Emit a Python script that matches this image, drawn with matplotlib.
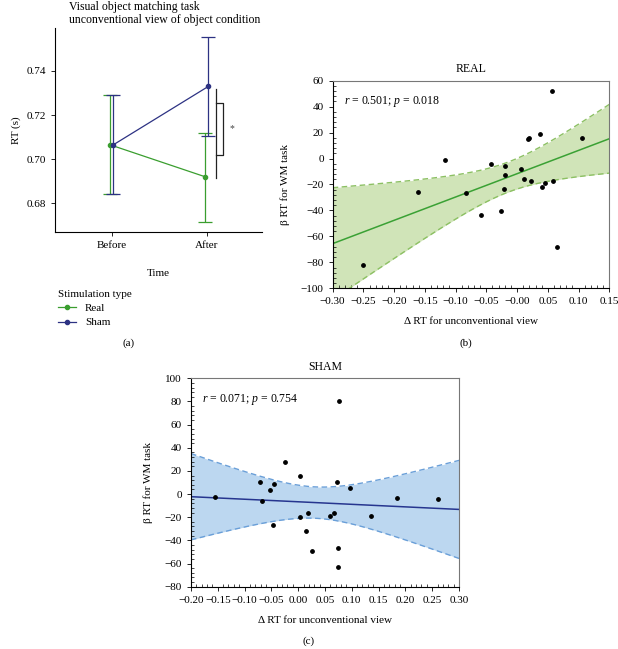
import numpy as np
import matplotlib
matplotlib.use('Agg')
import matplotlib.pyplot as plt
from matplotlib.lines import Line2D
from matplotlib.ticker import AutoMinorLocator

plt.rcParams['font.family'] = 'Liberation Serif'
plt.rcParams['mathtext.fontset'] = 'custom'
plt.rcParams['mathtext.rm'] = 'Liberation Serif'
plt.rcParams['mathtext.it'] = 'Liberation Serif:italic'
plt.rcParams['font.size'] = 8

# panel (a): mean RT with error bars
times = ['Before', 'After']
real_mean = [0.7065, 0.692]
real_lo = [0.6843, 0.6715]
real_hi = [0.7293, 0.712]
sham_mean = [0.7065, 0.733]
sham_lo = [0.6843, 0.7105]
sham_hi = [0.7293, 0.7555]

# panel (b): REAL scatter
real_x = [-0.250, -0.161, -0.117, -0.083, -0.058, -0.043, -0.026, -0.021, -0.019, -0.019,
          0.007, 0.011, 0.017, 0.020, 0.023, 0.037, 0.041, 0.045, 0.056, 0.058, 0.065, 0.106]
real_y = [-81.8, -25.5, -1.1, -26.3, -43.7, -4.2, -40.4, -23.7, -5.7, -12.4,
          -8.0, -15.8, 15.1, 16.1, -17.0, 19.2, -21.7, -18.8, 51.8, -17.0, -68.4, 16.1]

# panel (c): SHAM scatter
sham_x = [-0.156, -0.072, -0.067, -0.052, -0.045, -0.047, -0.024, 0.004, 0.003, 0.015, 0.018,
          0.026, 0.060, 0.067, 0.072, 0.074, 0.075, 0.077, 0.096, 0.136, 0.184, 0.260]
sham_y = [-2.3, 10.4, -6.3, 3.7, 8.4, -26.8, 27.4, 15.8, -19.9, -32.3, -16.7,
          -49.0, -18.7, -16.1, 10.4, -46.4, -62.8, 80.7, 4.9, -18.7, -3.5, -4.0]

green = '#3a9e2f'
navy = '#2d3283'

fig = plt.figure(figsize=(6.18, 6.49), dpi=100)

# ---- (a)
ax = fig.add_axes([0.089, 0.6425, 0.335, 0.3144])
xs = np.arange(1, 3)
for mean, lo, hi, col, d in [(real_mean, real_lo, real_hi, green, -0.015),
                             (sham_mean, sham_lo, sham_hi, navy, 0.015)]:
    mean = np.array(mean)
    err = [mean - np.array(lo), np.array(hi) - mean]
    ax.errorbar(xs + d, mean, yerr=err, color=col, lw=0.9, capsize=5, capthick=0.9,
                marker='o', ms=3)
ax.set_xlim(0.403, 2.58)
ax.set_ylim(0.667, 0.7595)
ax.set_xticks(xs)
ax.set_xticklabels(times)
ax.set_yticks([0.68, 0.70, 0.72, 0.74])
ax.set_yticklabels(['0.68', '0.70', '0.72', '0.74'])
ax.set_ylabel('RT (s)')
ax.set_xlabel('Time', labelpad=14)
for s in ['top', 'right']:
    ax.spines[s].set_visible(False)
ax.tick_params(length=3, width=0.6)
# significance bracket
ax.plot([2.093, 2.093], [0.6913, 0.7317], color='#222222', lw=0.9, clip_on=False)
ax.plot([2.093, 2.17, 2.17, 2.093], [0.7257, 0.7257, 0.702, 0.702], color='#222222',
        lw=0.9, clip_on=False)
ax.text(2.261, 0.714, '*', ha='center', va='center', fontsize=7, color='#444444')
fig.text(0.112, 0.999, 'Visual object matching task\nunconventional view of object condition',
         ha='left', va='top', fontsize=8.5, linespacing=1.1)

handles = [Line2D([], [], color=green, marker='o', ms=3, lw=0.9),
           Line2D([], [], color=navy, marker='o', ms=3, lw=0.9)]
leg = fig.legend(handles, ['Real', 'Sham'], title='Stimulation type', loc='upper left',
                 bbox_to_anchor=(0.078, 1 - 280 / 649), frameon=False, fontsize=8,
                 title_fontsize=8, handlelength=1.6, labelspacing=0.4, alignment='left')
fig.text(129 / 618, 1 - 343 / 649, '(a)', ha='center', va='center')

t_crit = 2.086


def reg_panel(ax, x, y, xlim, ylim, fill, edge, line, title, label):
    x = np.array(x)
    y = np.array(y)
    n = len(x)
    b, a = np.polyfit(x, y, 1)
    resid = y - (a + b * x)
    s = np.sqrt(np.sum(resid ** 2) / (n - 2))
    xx = np.linspace(xlim[0], xlim[1], 200)
    yy = a + b * xx
    se = s * np.sqrt(1 / n + (xx - x.mean()) ** 2 / np.sum((x - x.mean()) ** 2))
    ax.fill_between(xx, yy - t_crit * se, yy + t_crit * se, color=fill, lw=0)
    ax.plot(xx, yy - t_crit * se, color=edge, lw=1, ls=(0, (4, 2.5)))
    ax.plot(xx, yy + t_crit * se, color=edge, lw=1, ls=(0, (4, 2.5)))
    ax.plot(xx, yy, color=line, lw=1.1)
    ax.scatter(x, y, s=6, color='black', zorder=5)
    ax.set_xlim(*xlim)
    ax.set_ylim(*ylim)
    ax.set_title(title, fontsize=8.5, pad=6)
    ax.set_xlabel('Δ RT for unconventional view', labelpad=8)
    ax.set_ylabel('β RT for WM task', labelpad=8)
    ax.xaxis.set_minor_locator(AutoMinorLocator(5))
    ax.yaxis.set_minor_locator(AutoMinorLocator(5))
    ax.tick_params(which='major', length=3, width=0.6, direction='out')
    ax.tick_params(which='minor', length=2, width=0.5, direction='in')
    for s_ in ['top', 'right']:
        ax.spines[s_].set_color('#777777')
    ax.text(0.04, 0.9, label, transform=ax.transAxes, ha='left', va='center', fontsize=8.5)


# ---- (b)
axb = fig.add_axes([0.5383, 0.5558, 0.4476, 0.3199])
reg_panel(axb, real_x, real_y, (-0.30, 0.15), (-100, 60), '#d0e4b8', '#8cc063', '#3aa134',
          'REAL', '$r$ = 0.501; $p$ = 0.018')
axb.set_xticks(np.arange(-0.30, 0.151, 0.05))
axb.set_xticklabels([f'{v:.2f}'.replace('-', '\u2212') for v in np.arange(-0.30, 0.151, 0.05)])
axb.set_yticks(np.arange(-100, 61, 20))
fig.text(466 / 618, 1 - 343 / 649, '(b)', ha='center', va='center')

# ---- (c)
axc = fig.add_axes([0.309, 0.0960, 0.4337, 0.3211])
reg_panel(axc, sham_x, sham_y, (-0.20, 0.30), (-80, 100), '#bcd7f0', '#6a9fd8', '#26358f',
          'SHAM', '$r$ = 0.071; $p$ = 0.754')
axc.set_xticks(np.arange(-0.20, 0.301, 0.05))
axc.set_xticklabels([f'{v:.2f}'.replace('-', '\u2212') if abs(v) > 1e-9 else '0.00'
                     for v in np.arange(-0.20, 0.301, 0.05)])
axc.set_yticks(np.arange(-80, 101, 20))
fig.text(309 / 618, 1 - 641 / 649, '(c)', ha='center', va='center')

fig.savefig('out.png', dpi=100)
